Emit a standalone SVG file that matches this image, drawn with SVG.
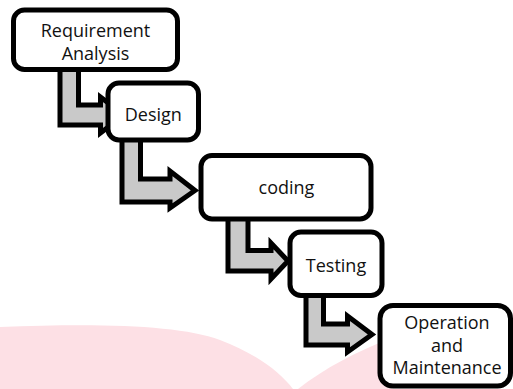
<svg xmlns="http://www.w3.org/2000/svg" width="513" height="389" viewBox="0 0 513 389">
<style>
.box{fill:#fff;stroke:#000;stroke-width:5}
.arr{fill:#c9c9c9;stroke:#000;stroke-width:5;stroke-linejoin:miter}
.lbl{font-family:"Open Sans","Noto Sans","DejaVu Sans",sans-serif;font-size:18px;fill:#111;text-anchor:middle}
.bg{fill:#fde0e5}
</style>
<rect width="513" height="389" fill="#fff"/>
<g id="background">
<path class="bg" d="M0,389 V327 C100,323 180,325 220,340 C255,353 280,372 293,389 Z"/>
<path class="bg" d="M298,389 C325,368 355,352 392,338 L392,389 Z"/>
</g>
<g id="connectors">
<polygon class="arr" points="60,66 78.5,66 78.5,105 100.5,105 100.5,97 124,115 100.5,133 100.5,125 60,125"/>
<polygon class="arr" points="122,138 140.5,138 140.5,179 170,179 170,171 195,190.5 170,208 170,202 122,202"/>
<polygon class="arr" points="228,217 248,217 248,250.5 271,250.5 271,243 288,261 271,279 271,271 228,271"/>
<polygon class="arr" points="306,293 323.5,293 323.5,324 347.5,324 347.5,316 372,334.5 347.5,352 347.5,345 306,345"/>
</g>
<g id="requirement-analysis">
<rect class="box" x="13.5" y="10" width="164" height="59.5" rx="11"/>
<text class="lbl" x="95.5" y="37">Requirement</text>
<text class="lbl" x="95.5" y="60">Analysis</text>
</g>
<g id="design">
<rect class="box" x="108" y="83" width="90.5" height="57" rx="11"/>
<text class="lbl" x="153.3" y="121">Design</text>
</g>
<g id="coding">
<rect class="box" x="201" y="155.5" width="170" height="63.5" rx="11"/>
<text class="lbl" x="286.5" y="194">coding</text>
</g>
<g id="testing">
<rect class="box" x="290" y="232" width="92" height="63.5" rx="11"/>
<text class="lbl" x="336" y="271.7">Testing</text>
</g>
<g id="operation-maintenance">
<rect class="box" x="380" y="305.5" width="130.5" height="80.5" rx="13"/>
<text class="lbl" x="447" y="329.3">Operation</text>
<text class="lbl" x="447" y="351.5">and</text>
<text class="lbl" x="447" y="373.5">Maintenance</text>
</g>
</svg>
